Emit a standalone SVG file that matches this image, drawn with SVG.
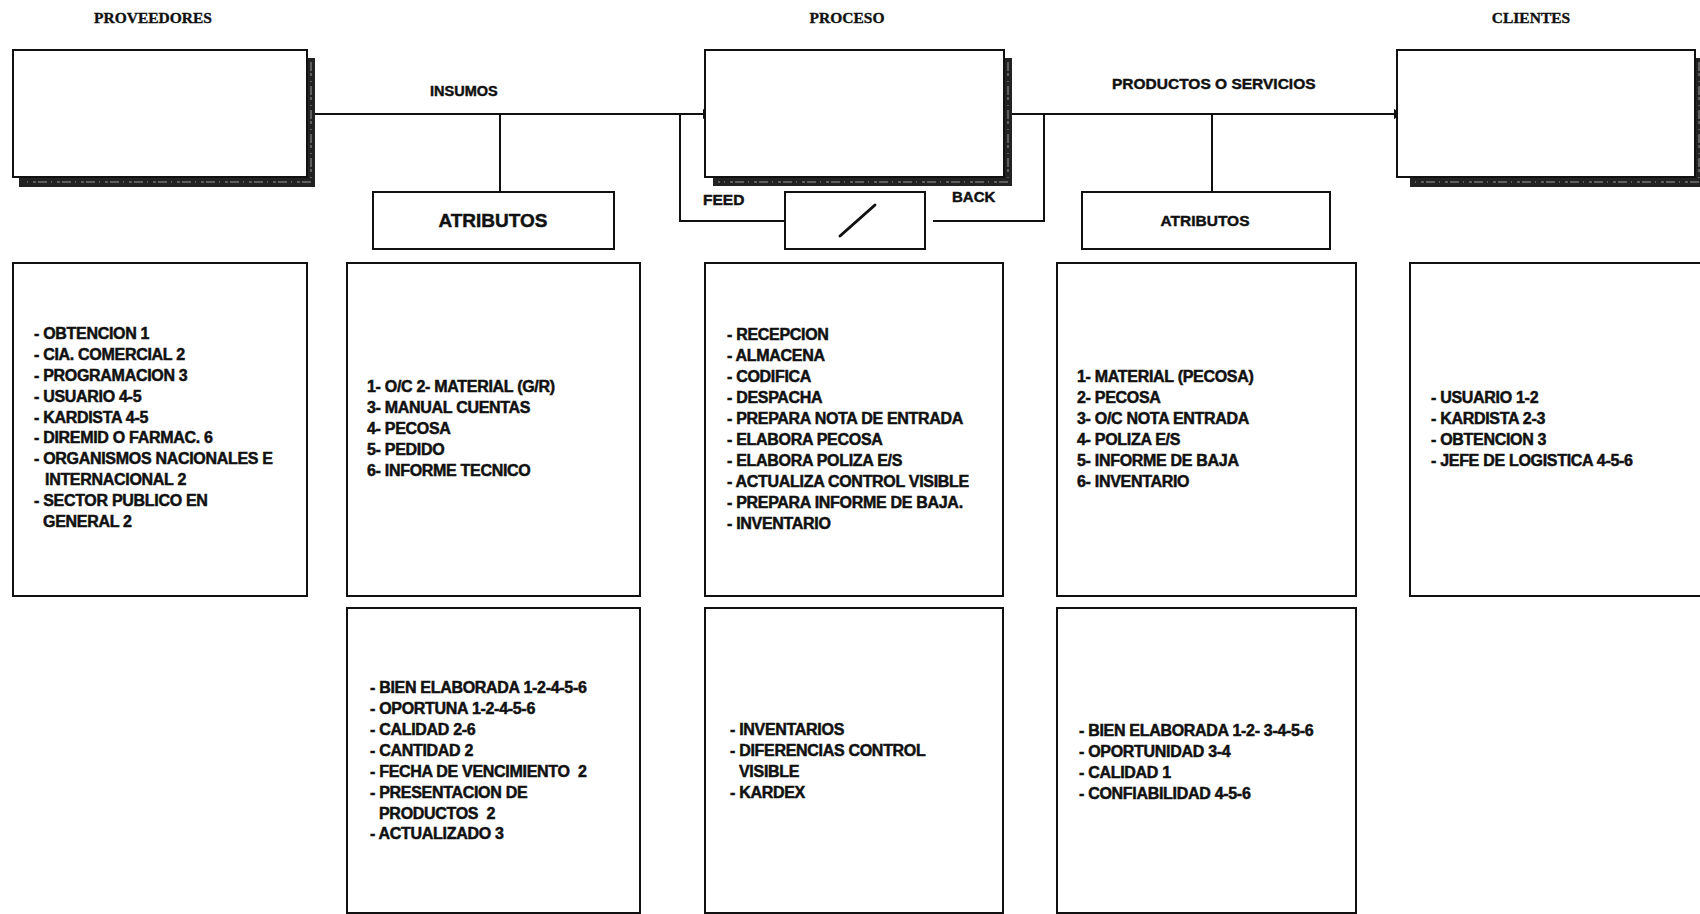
<svg xmlns="http://www.w3.org/2000/svg" width="1700" height="914" viewBox="0 0 1700 914">
  <defs>
    <style>
      .hdr { font-family: "Liberation Serif", "Times New Roman", serif; font-weight: bold; font-size: 15.5px; fill: #111; stroke: #111; stroke-width: 0.35px; text-anchor: middle; }
      .lbl { font-family: "Liberation Sans", Arial, sans-serif; font-weight: bold; font-size: 15px; fill: #111; stroke: #111; stroke-width: 0.45px; }
      .lst { font-family: "Liberation Sans", Arial, sans-serif; font-weight: bold; font-size: 16px; letter-spacing: -0.3px; fill: #111; stroke: #111; stroke-width: 0.5px; }
      .box { fill: #fff; stroke: #111; stroke-width: 2; }
      .shadow { fill: #222; }
      .grain { fill: none; stroke: #9a9a9a; stroke-width: 1; stroke-dasharray: 9 2 3 5 1 4; }
      .wire { fill: none; stroke: #111; stroke-width: 2; }
    </style>
    <marker id="arrow" markerUnits="userSpaceOnUse" markerWidth="11" markerHeight="11" refX="10" refY="5" orient="auto">
      <path d="M0,0 L10,5 L0,10 Z" fill="#111"/>
    </marker>
  </defs>

  <rect width="1700" height="914" fill="#fff"/>

  <!-- column titles -->
  <text class="hdr" x="153" y="23">PROVEEDORES</text>
  <text class="hdr" x="847" y="23">PROCESO</text>
  <text class="hdr" x="1531" y="23">CLIENTES</text>

  <!-- connectors -->
  <g id="connectors">
    <line class="wire" x1="307" y1="114" x2="713" y2="114" marker-end="url(#arrow)"/>
    <line class="wire" x1="1012" y1="114" x2="1404" y2="114" marker-end="url(#arrow)"/>
    <line class="wire" x1="500" y1="114" x2="500" y2="192"/>
    <line class="wire" x1="1212" y1="114" x2="1212" y2="192"/>
    <polyline class="wire" points="680,114 680,221 785,221"/>
    <polyline class="wire" points="933,221 1044,221 1044,114"/>
    <text class="lbl" x="430" y="96" style="font-size:14.5px">INSUMOS</text>
    <text class="lbl" x="1112" y="89" style="font-size:15.5px">PRODUCTOS O SERVICIOS</text>
    <text class="lbl" x="703" y="205" style="font-size:15.5px">FEED</text>
    <text class="lbl" x="952" y="202">BACK</text>
  </g>

  <!-- top row: shadowed boxes -->
  <g id="proveedores">
    <path class="shadow" d="M307,58 H315 V187 H19 V178 H307 Z"/>
    <path class="grain" d="M311,62 V182 H24"/>
    <rect class="box" x="13" y="50" width="294" height="127"/>
  </g>

  <g id="proceso">
    <path class="shadow" d="M1004,58 H1012 V186 H713 V178 H1004 Z"/>
    <path class="grain" d="M1008,62 V182 H718"/>
    <rect class="box" x="705" y="50" width="299" height="127"/>
  </g>

  <g id="clientes">
    <path class="shadow" d="M1695,58 H1703 V187 H1410 V178 H1695 Z"/>
    <path class="grain" d="M1699,62 V182 H1414"/>
    <rect class="box" x="1397" y="50" width="298" height="127"/>
  </g>

  <g id="atributos-insumos">
    <rect class="box" x="373" y="192" width="241" height="57"/>
    <text class="lbl" x="493" y="227" text-anchor="middle" style="font-size:19px">ATRIBUTOS</text>
  </g>

  <g id="feedback">
    <rect class="box" x="785" y="192" width="140" height="57"/>
    <line x1="840" y1="236" x2="875" y2="205" stroke="#111" stroke-width="3" stroke-linecap="round"/>
  </g>

  <g id="atributos-productos">
    <rect class="box" x="1082" y="192" width="248" height="57"/>
    <text class="lbl" x="1205" y="226" text-anchor="middle" style="font-size:15.5px">ATRIBUTOS</text>
  </g>

  <!-- middle row -->
  <g id="lista-proveedores">
    <rect class="box" x="13" y="263" width="294" height="333"/>
    <text class="lst" x="34" y="339">- OBTENCION 1</text>
    <text class="lst" x="34" y="360">- CIA. COMERCIAL 2</text>
    <text class="lst" x="34" y="381">- PROGRAMACION 3</text>
    <text class="lst" x="34" y="402">- USUARIO 4-5</text>
    <text class="lst" x="34" y="423">- KARDISTA 4-5</text>
    <text class="lst" x="34" y="443">- DIREMID O FARMAC. 6</text>
    <text class="lst" x="34" y="464">- ORGANISMOS NACIONALES E</text>
    <text class="lst" x="45" y="485">INTERNACIONAL 2</text>
    <text class="lst" x="34" y="506">- SECTOR PUBLICO EN</text>
    <text class="lst" x="43" y="527">GENERAL 2</text>
  </g>

  <g id="lista-insumos">
    <rect class="box" x="347" y="263" width="293" height="333"/>
    <text class="lst" x="367" y="392">1- O/C 2- MATERIAL (G/R)</text>
    <text class="lst" x="367" y="413">3- MANUAL CUENTAS</text>
    <text class="lst" x="367" y="434">4- PECOSA</text>
    <text class="lst" x="367" y="455">5- PEDIDO</text>
    <text class="lst" x="367" y="476">6- INFORME TECNICO</text>
  </g>

  <g id="lista-proceso">
    <rect class="box" x="705" y="263" width="298" height="333"/>
    <text class="lst" x="727" y="340">- RECEPCION</text>
    <text class="lst" x="727" y="361">- ALMACENA</text>
    <text class="lst" x="727" y="382">- CODIFICA</text>
    <text class="lst" x="727" y="403">- DESPACHA</text>
    <text class="lst" x="727" y="424">- PREPARA NOTA DE ENTRADA</text>
    <text class="lst" x="727" y="445">- ELABORA PECOSA</text>
    <text class="lst" x="727" y="466">- ELABORA POLIZA E/S</text>
    <text class="lst" x="727" y="487">- ACTUALIZA CONTROL VISIBLE</text>
    <text class="lst" x="727" y="508">- PREPARA INFORME DE BAJA.</text>
    <text class="lst" x="727" y="529">- INVENTARIO</text>
  </g>

  <g id="lista-productos">
    <rect class="box" x="1057" y="263" width="299" height="333"/>
    <text class="lst" x="1077" y="382">1- MATERIAL (PECOSA)</text>
    <text class="lst" x="1077" y="403">2- PECOSA</text>
    <text class="lst" x="1077" y="424">3- O/C NOTA ENTRADA</text>
    <text class="lst" x="1077" y="445">4- POLIZA E/S</text>
    <text class="lst" x="1077" y="466">5- INFORME DE BAJA</text>
    <text class="lst" x="1077" y="487">6- INVENTARIO</text>
  </g>

  <g id="lista-clientes">
    <rect class="box" x="1410" y="263" width="295" height="333"/>
    <text class="lst" x="1431" y="403">- USUARIO 1-2</text>
    <text class="lst" x="1431" y="424">- KARDISTA 2-3</text>
    <text class="lst" x="1431" y="445">- OBTENCION 3</text>
    <text class="lst" x="1431" y="466">- JEFE DE LOGISTICA 4-5-6</text>
  </g>

  <!-- bottom row -->
  <g id="calidad-insumos">
    <rect class="box" x="347" y="608" width="293" height="305"/>
    <text class="lst" x="370" y="693">- BIEN ELABORADA 1-2-4-5-6</text>
    <text class="lst" x="370" y="714">- OPORTUNA 1-2-4-5-6</text>
    <text class="lst" x="370" y="735">- CALIDAD 2-6</text>
    <text class="lst" x="370" y="756">- CANTIDAD 2</text>
    <text class="lst" x="370" y="777" xml:space="preserve">- FECHA DE VENCIMIENTO  2</text>
    <text class="lst" x="370" y="798">- PRESENTACION DE</text>
    <text class="lst" x="379" y="819" xml:space="preserve">PRODUCTOS  2</text>
    <text class="lst" x="370" y="839">- ACTUALIZADO 3</text>
  </g>

  <g id="control-proceso">
    <rect class="box" x="705" y="608" width="298" height="305"/>
    <text class="lst" x="730" y="735">- INVENTARIOS</text>
    <text class="lst" x="730" y="756">- DIFERENCIAS CONTROL</text>
    <text class="lst" x="739" y="777">VISIBLE</text>
    <text class="lst" x="730" y="798">- KARDEX</text>
  </g>

  <g id="calidad-productos">
    <rect class="box" x="1057" y="608" width="299" height="305"/>
    <text class="lst" x="1079" y="736">- BIEN ELABORADA 1-2- 3-4-5-6</text>
    <text class="lst" x="1079" y="757">- OPORTUNIDAD 3-4</text>
    <text class="lst" x="1079" y="778">- CALIDAD 1</text>
    <text class="lst" x="1079" y="799">- CONFIABILIDAD 4-5-6</text>
  </g>
</svg>
